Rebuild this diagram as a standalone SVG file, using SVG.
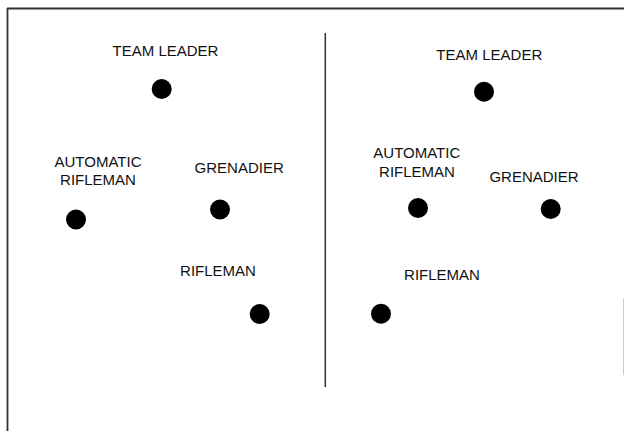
<svg xmlns="http://www.w3.org/2000/svg" width="624" height="431" viewBox="0 0 624 431">
<style>
.lbl{font-family:"Liberation Sans",Arial,sans-serif;font-size:15px;fill:#111;text-anchor:middle}
.dot{fill:#000}
.frame{stroke:#333;stroke-width:1.8;fill:none}
</style>
<rect width="624" height="431" fill="#fff"/>
<g id="connectors">
<line class="frame" x1="7" y1="8.5" x2="624" y2="8.5"/>
<line class="frame" x1="7.5" y1="8" x2="7.5" y2="431"/>
<line x1="325.3" y1="33" x2="325.3" y2="387" stroke="#333" stroke-width="1.5"/>
<line x1="623.5" y1="298" x2="623.5" y2="375" stroke="#ccc" stroke-width="1"/>
</g>
<g id="left-team-leader"><text class="lbl" x="165.5" y="56">TEAM LEADER</text><circle class="dot" cx="161.7" cy="89" r="10"/></g>
<g id="left-automatic-rifleman"><text class="lbl" x="98" y="167.3">AUTOMATIC</text><text class="lbl" x="98" y="185">RIFLEMAN</text><circle class="dot" cx="76" cy="219.5" r="10"/></g>
<g id="left-grenadier"><text class="lbl" x="239.2" y="173.3">GRENADIER</text><circle class="dot" cx="220" cy="209.5" r="10"/></g>
<g id="left-rifleman"><text class="lbl" x="218" y="275.7">RIFLEMAN</text><circle class="dot" cx="259.7" cy="314" r="10"/></g>
<g id="right-team-leader"><text class="lbl" x="489.3" y="60">TEAM LEADER</text><circle class="dot" cx="484" cy="91.7" r="10"/></g>
<g id="right-automatic-rifleman"><text class="lbl" x="416.8" y="157.7">AUTOMATIC</text><text class="lbl" x="417" y="177.3">RIFLEMAN</text><circle class="dot" cx="418" cy="208" r="10"/></g>
<g id="right-grenadier"><text class="lbl" x="534" y="181.7">GRENADIER</text><circle class="dot" cx="550.7" cy="209" r="10"/></g>
<g id="right-rifleman"><text class="lbl" x="442" y="280">RIFLEMAN</text><circle class="dot" cx="381" cy="313.7" r="10"/></g>
</svg>
